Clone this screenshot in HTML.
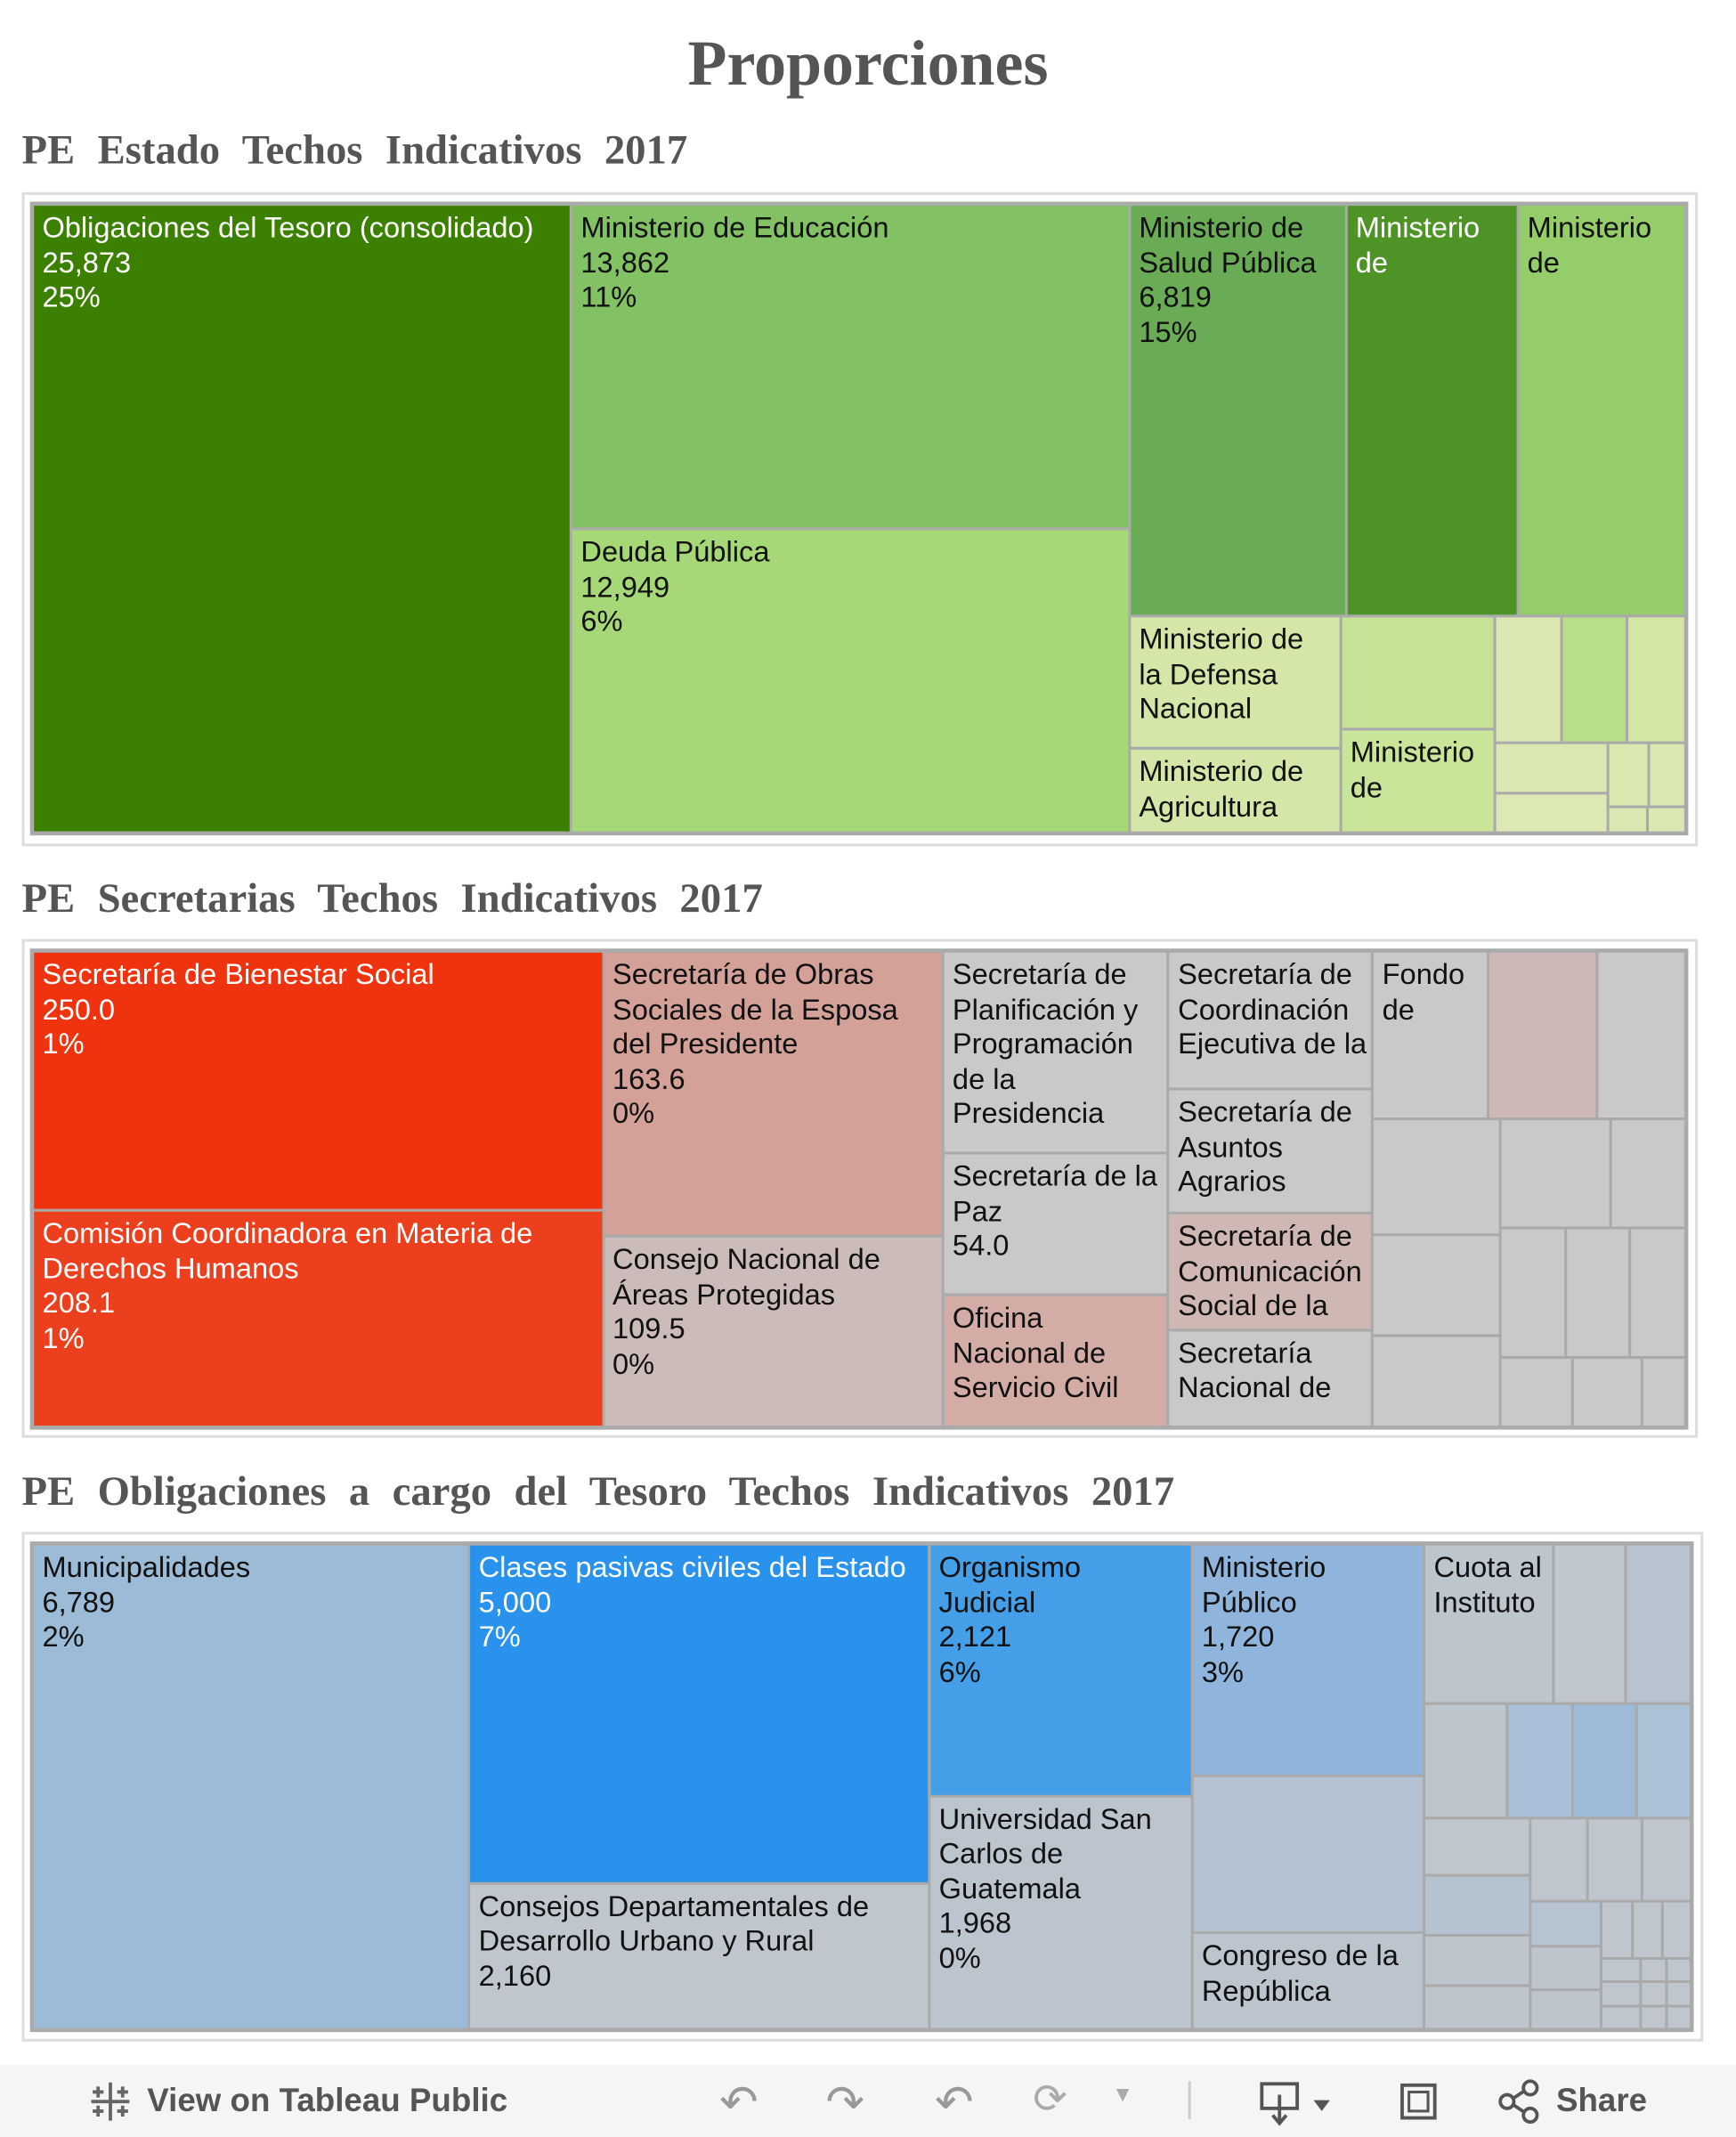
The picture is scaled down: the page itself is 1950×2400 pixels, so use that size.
<!DOCTYPE html>
<html><head><meta charset="utf-8">
<style>
html,body{margin:0;padding:0;background:#fff;}
body{width:1950px;height:2400px;overflow:hidden;position:relative;}
#wrap{position:absolute;left:0;top:0;width:1274px;height:1568px;transform:scale(1.5306);transform-origin:0 0;}
.h1{position:absolute;left:0;width:1274px;top:20px;text-align:center;font:bold 47px "Liberation Serif",serif;color:#555;}
.sec{position:absolute;left:16px;font:bold 30.5px "Liberation Serif",serif;color:#555;word-spacing:9px;}
.frame{position:absolute;border:2px solid #ddd;box-sizing:border-box;}
.tm{position:absolute;background:#aaa;}
.cell{position:absolute;overflow:hidden;box-sizing:border-box;padding:4px 0 0 6px;font:21.3px/25.5px "Liberation Sans",sans-serif;color:#111;white-space:pre;}
.tb{position:absolute;left:0;top:1515px;width:1274px;height:53px;background:#f5f5f5;font:bold 24px "Liberation Sans",sans-serif;color:#555;}
</style></head><body>
<div id="wrap">
<div class="h1">Proporciones</div>
<div class="sec" style="top:93px">PE Estado Techos Indicativos 2017</div>
<div class="frame" style="left:16px;top:141px;width:1230px;height:480px"></div>
<div class="tm" id="tm1" style="left:22px;top:148px;width:1217px;height:465px"></div>
<div class="sec" style="top:642px">PE Secretarias Techos Indicativos 2017</div>
<div class="frame" style="left:16px;top:689px;width:1230px;height:366px"></div>
<div class="tm" id="tm2" style="left:22px;top:696px;width:1217px;height:353px"></div>
<div class="sec" style="top:1077px">PE Obligaciones a cargo del Tesoro Techos Indicativos 2017</div>
<div class="frame" style="left:16px;top:1124px;width:1234px;height:374px"></div>
<div class="tm" id="tm3" style="left:22px;top:1131px;width:1221px;height:360px"></div>
<div class="tb">
 <svg style="position:absolute;left:64px;top:10px" width="34" height="34" viewBox="0 0 34 34"><g stroke="#666" stroke-width="2.5"><line x1="17" y1="3" x2="17" y2="31"/><line x1="3" y1="17" x2="31" y2="17"/><line x1="8" y1="6" x2="8" y2="14"/><line x1="4" y1="10" x2="12" y2="10"/><line x1="26" y1="6" x2="26" y2="14"/><line x1="22" y1="10" x2="30" y2="10"/><line x1="8" y1="20" x2="8" y2="28"/><line x1="4" y1="24" x2="12" y2="24"/><line x1="26" y1="20" x2="26" y2="28"/><line x1="22" y1="24" x2="30" y2="24"/></g></svg>
 <span style="position:absolute;left:108px;top:13px">View on Tableau Public</span>
 <span style="position:absolute;left:528px;top:8px;font-size:34px;color:#999;font-weight:normal">↶</span>
 <span style="position:absolute;left:606px;top:8px;font-size:34px;color:#999;font-weight:normal">↷</span>
 <span style="position:absolute;left:686px;top:8px;font-size:34px;color:#999;font-weight:normal">↶</span>
 <span style="position:absolute;left:758px;top:8px;font-size:30px;color:#aaa;font-weight:normal">⟳</span>
 <span style="position:absolute;left:816px;top:14px;font-size:16px;color:#aaa">▼</span>
 <div style="position:absolute;left:872px;top:12px;width:2px;height:28px;background:#ccc"></div>
 <svg style="position:absolute;left:922px;top:8px" width="60" height="38"><rect x="4" y="6" width="26" height="18" fill="none" stroke="#555" stroke-width="2.5"/><line x1="17" y1="14" x2="17" y2="34" stroke="#555" stroke-width="2.5"/><path d="M12 29 L17 35 L22 29" fill="none" stroke="#555" stroke-width="2.5"/><path d="M42 18 L54 18 L48 26 Z" fill="#555"/></svg>
 <svg style="position:absolute;left:1024px;top:10px" width="34" height="34"><rect x="5" y="5" width="24" height="24" fill="none" stroke="#555" stroke-width="2.5"/><rect x="10" y="10" width="14" height="14" fill="none" stroke="#555" stroke-width="2"/></svg>
 <svg style="position:absolute;left:1098px;top:10px" width="34" height="34"><g fill="none" stroke="#555" stroke-width="2.5"><circle cx="8" cy="17" r="5"/><circle cx="25" cy="7" r="5"/><circle cx="25" cy="27" r="5"/><line x1="12" y1="15" x2="21" y2="9"/><line x1="12" y1="19" x2="21" y2="25"/></g></svg>
 <span style="position:absolute;left:1142px;top:13px">Share</span>
</div>
</div>
<script>
// ---- Chart 1: PE Estado ----
const c1Values = [25873,13862,12949,6819,5407,5278,2136,1365,1333,1220,647,633,568,436,342,200,180,78,76];
const c1Labels = ["Obligaciones del Tesoro (consolidado)\n25,873\n25%","Ministerio de Educación\n13,862\n11%","Deuda Pública\n12,949\n6%","Ministerio de\nSalud Pública\n6,819\n15%","Ministerio\nde","Ministerio\nde","Ministerio de\nla Defensa\nNacional","Ministerio de\nAgricultura","","Ministerio\nde","","","","","","","","",""];
const c1Colors = ["#3c8000","#83c264","#a6d878","#6aac56","#4e9325","#94cd6a","#d4e6a8","#d4e6a8","#c6e296","#c9e59a","#dae8b0","#b8df88","#d3e6a4","#dae8b0","#dce9b2","#d9e8ae","#d9e8ae","#dae8b2","#dae8b2"];
const c1White = [0,4];
const c1Tree = {d:'h',c:[0,{d:'v',c:[1,2]},{d:'v',c:[{d:'h',c:[3,4,5]},{d:'h',c:[{d:'v',c:[6,7]},{d:'v',c:[8,9]},{d:'v',c:[{d:'h',c:[10,11,12]},{d:'h',c:[{d:'v',c:[13,14]},{d:'v',c:[{d:'h',c:[15,16]},{d:'h',c:[17,18]}]}]}]}]}]}]};
// ---- Chart 2: PE Secretarias ----
const c2Values = [250,208.1,163.6,109.5,77,54,50.1,47.5,42.8,40.4,33.4,32.7,30.8,25,25,21.8,19.7,20.3,13.8,14.3,14,12.2,8.5,8.1,5.1];
const c2Labels = ["Secretaría de Bienestar Social\n250.0\n1%","Comisión Coordinadora en Materia de\nDerechos Humanos\n208.1\n1%","Secretaría de Obras\nSociales de la Esposa\ndel Presidente\n163.6\n0%","Consejo Nacional de\nÁreas Protegidas\n109.5\n0%","Secretaría de\nPlanificación y\nProgramación\nde la\nPresidencia","Secretaría de la\nPaz\n54.0","Oficina\nNacional de\nServicio Civil","Secretaría de\nCoordinación\nEjecutiva de la","Secretaría de\nAsuntos\nAgrarios","Secretaría de\nComunicación\nSocial de la","Secretaría\nNacional de","Fondo\nde","","","","","","","","","","","","",""];
const c2Colors = ["#f0330f","#ec3f1e","#d3a198","#ccbcb9","#c9c9c9","#c9c9c9","#d3aca6","#c9c9c9","#c9c9c9","#cfb8b4","#c9c9c9","#c9c9c9","#ceb8b7","#c9c9c9","#c9c9c9","#c9c9c9","#c9c9c9","#c9c9c9","#c9c9c9","#c9c9c9","#c9c9c9","#c9c9c9","#c9c9c9","#c9c9c9","#c9c9c9"];
const c2White = [0,1];
const c2Tree = {d:'h',c:[{d:'v',c:[0,1]},{d:'v',c:[2,3]},{d:'v',c:[4,5,6]},{d:'v',c:[7,8,9,10]},{d:'v',c:[{d:'h',c:[11,12,13]},{d:'h',c:[{d:'v',c:[14,15,16]},{d:'v',c:[{d:'h',c:[17,18]},{d:'h',c:[19,20,21]},{d:'h',c:[22,23,24]}]}]}]}]};
// ---- Chart 3: PE Obligaciones a cargo del Tesoro ----
const c3Values = [6789,5000,2160,2121,1968,1720,1175,715,660,364,337,303,243,233,203,195,204,168,150,152,148,130,103,97,91,57,57,52,30,30,30,19,19,19,19,19,19];
const c3Labels = ["Municipalidades\n6,789\n2%","Clases pasivas civiles del Estado\n5,000\n7%","Consejos Departamentales de\nDesarrollo Urbano y Rural\n2,160","Organismo\nJudicial\n2,121\n6%","Universidad San\nCarlos de\nGuatemala\n1,968\n0%","Ministerio\nPúblico\n1,720\n3%","","Congreso de la\nRepública","Cuota al\nInstituto"];
const c3Colors = ["#9bbbd6","#2892ec","#bfc6ce","#449fe8","#bcc5ce","#8fb5dc","#b3c3d3","#bcc4cd","#bdc5cd","#c0c7cf","#b7c4d0","#bdc5cd","#a9c0d8","#9dbbd7","#acc2d7","#c0c6ce","#b5c3d1","#bec5cd","#bec5cd","#c0c6ce","#c0c6ce","#c0c6ce","#b6c3d1","#bec5cd","#bec5cd","#c0c6ce","#c0c6ce","#c0c6ce","#bfc6ce","#bfc6ce","#bfc6ce","#bfc6ce","#bfc6ce","#bfc6ce","#bfc6ce","#bfc6ce","#bfc6ce"];
const c3White = [1];
const c3Tree = {d:'h',c:[0,{d:'v',c:[1,2]},{d:'v',c:[3,4]},{d:'v',c:[5,6,7]},{d:'v',c:[{d:'h',c:[8,9,10]},{d:'h',c:[11,12,13,14]},{d:'h',c:[{d:'v',c:[15,16,17,18]},{d:'v',c:[{d:'h',c:[19,20,21]},{d:'h',c:[{d:'v',c:[22,23,24]},{d:'v',c:[{d:'h',c:[25,26,27]},{d:'h',c:[{d:'v',c:[28,29,30]},{d:'v',c:[{d:'h',c:[31,32]},{d:'h',c:[33,34]},{d:'h',c:[35,36]}]}]}]}]}]}]}]}]};

function sumNode(n, vals){ return typeof n==='number' ? vals[n] : n.c.reduce((s,k)=>s+sumNode(k,vals),0); }
function layout(n, vals, x, y, w, h, out){
  if (typeof n==='number'){ out.push({i:n,x:x,y:y,w:w,h:h}); return; }
  const tot = sumNode(n, vals); let off = 0;
  n.c.forEach(k=>{
    const f = sumNode(k, vals)/tot;
    if (n.d==='h'){ layout(k, vals, x+off, y, w*f, h, out); off += w*f; }
    else { layout(k, vals, x, y+off, w, h*f, out); off += h*f; }
  });
}
function draw(id, tree, vals, labels, colors, whites, prefix){
  const host = document.getElementById(id);
  const W = host.clientWidth - 4, H = host.clientHeight - 4;
  const out = []; layout(tree, vals, 2, 2, W, H, out);
  out.forEach(r=>{
    const el = document.createElement('div');
    el.className = 'cell';
    el.style.left = (r.x+1)+'px'; el.style.top = (r.y+1)+'px';
    el.style.width = Math.max(0,r.w-2)+'px'; el.style.height = Math.max(0,r.h-2)+'px';
    el.style.background = colors[r.i];
    if (whites.indexOf(r.i)>=0) el.style.color = '#fff';
    el.textContent = labels[r.i] || '';
    
    
    host.appendChild(el);
  });
}
draw('tm1', c1Tree, c1Values, c1Labels, c1Colors, c1White, 'estado');
draw('tm2', c2Tree, c2Values, c2Labels, c2Colors, c2White, 'secretarias');
draw('tm3', c3Tree, c3Values, c3Labels, c3Colors, c3White, 'tesoro');
</script>
</body></html>
